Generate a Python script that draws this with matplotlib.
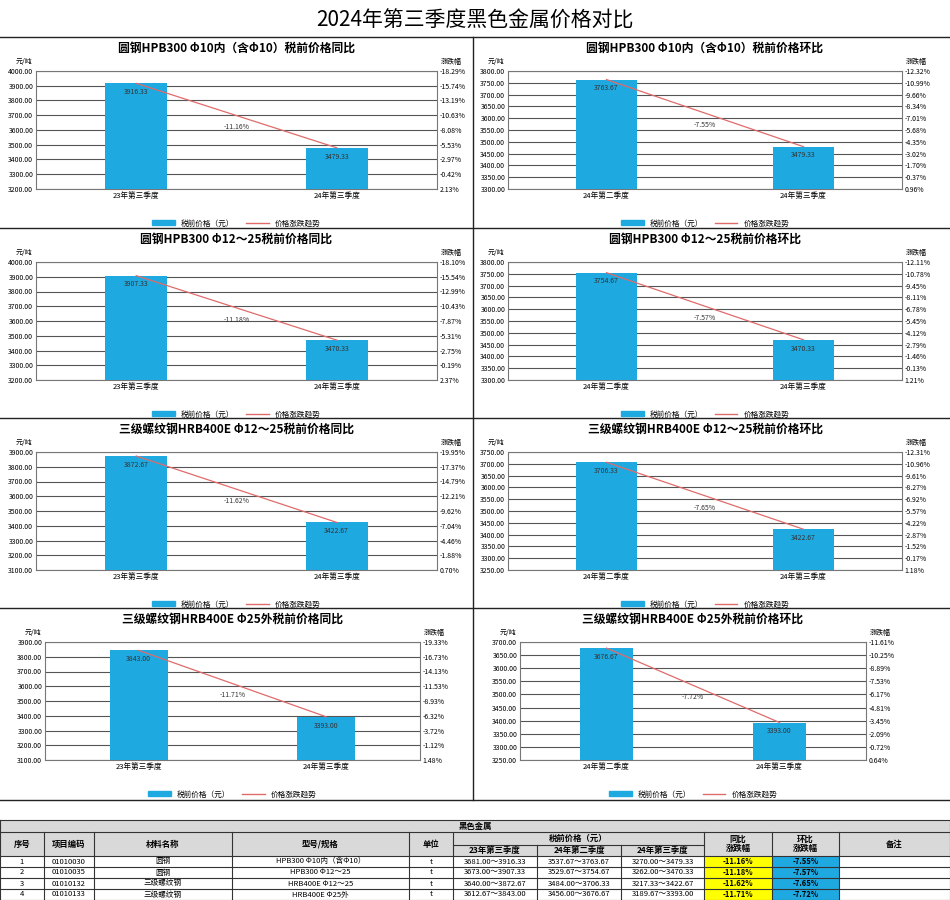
import numpy as np
import matplotlib.pyplot as plt
from matplotlib.patches import Rectangle
from matplotlib.lines import Line2D

plt.rcParams['font.family'] = ['Noto Sans CJK SC', 'DejaVu Sans']

W, H = 950, 900

titles = ["圆钢HPB300 Φ10内（含Φ10）税前价格同比", "圆钢HPB300 Φ10内（含Φ10）税前价格环比",
          "圆钢HPB300 Φ12～25税前价格同比", "圆钢HPB300 Φ12～25税前价格环比",
          "三级螺纹钢HRB400E Φ12～25税前价格同比", "三级螺纹钢HRB400E Φ12～25税前价格环比",
          "三级螺纹钢HRB400E Φ25外税前价格同比", "三级螺纹钢HRB400E Φ25外税前价格环比"]
cats_yoy = ["23年第三季度", "24年第三季度"]
cats_qoq = ["24年第二季度", "24年第三季度"]
values = [[3916.33, 3479.33], [3763.67, 3479.33],
          [3907.33, 3470.33], [3754.67, 3470.33],
          [3872.67, 3422.67], [3706.33, 3422.67],
          [3843.00, 3393.00], [3676.67, 3393.00]]
pct_labels = ["-11.16%", "-7.55%", "-11.18%", "-7.57%", "-11.62%", "-7.65%", "-11.71%", "-7.72%"]
left_ranges = [(3200, 4000, 100), (3300, 3800, 50), (3200, 4000, 100), (3300, 3800, 50),
               (3100, 3900, 100), (3250, 3750, 50), (3100, 3900, 100), (3250, 3700, 50)]
right_labels = [
    ["2.13%", "-0.42%", "-2.97%", "-5.53%", "-8.08%", "-10.63%", "-13.19%", "-15.74%", "-18.29%"],
    ["0.96%", "-0.37%", "-1.70%", "-3.02%", "-4.35%", "-5.68%", "-7.01%", "-8.34%", "-9.66%", "-10.99%", "-12.32%"],
    ["2.37%", "-0.19%", "-2.75%", "-5.31%", "-7.87%", "-10.43%", "-12.99%", "-15.54%", "-18.10%"],
    ["1.21%", "-0.13%", "-1.46%", "-2.79%", "-4.12%", "-5.45%", "-6.78%", "-8.11%", "-9.45%", "-10.78%", "-12.11%"],
    ["0.70%", "-1.88%", "-4.46%", "-7.04%", "-9.62%", "-12.21%", "-14.79%", "-17.37%", "-19.95%"],
    ["1.18%", "-0.17%", "-1.52%", "-2.87%", "-4.22%", "-5.57%", "-6.92%", "-8.27%", "-9.61%", "-10.96%", "-12.31%"],
    ["1.48%", "-1.12%", "-3.72%", "-6.32%", "-8.93%", "-11.53%", "-14.13%", "-16.73%", "-19.33%"],
    ["0.64%", "-0.72%", "-2.09%", "-3.45%", "-4.81%", "-6.17%", "-7.53%", "-8.89%", "-10.25%", "-11.61%"],
]

# table data
tbl_rows = [
    ["1", "01010030", "圆钢", "HPB300 Φ10内（含Φ10）", "t", "3681.00～3916.33", "3537.67～3763.67", "3270.00～3479.33", "-11.16%", "-7.55%"],
    ["2", "01010035", "圆钢", "HPB300 Φ12～25", "t", "3673.00～3907.33", "3529.67～3754.67", "3262.00～3470.33", "-11.18%", "-7.57%"],
    ["3", "01010132", "三级螺纹钢", "HRB400E Φ12～25", "t", "3640.00～3872.67", "3484.00～3706.33", "3217.33～3422.67", "-11.62%", "-7.65%"],
    ["4", "01010133", "三级螺纹钢", "HRB400E Φ25外", "t", "3612.67～3843.00", "3456.00～3676.67", "3189.67～3393.00", "-11.71%", "-7.72%"],
]

BAR = "#1FA9E1"
LINE = "#E06B6B"

fig = plt.figure(figsize=(9.5, 9), dpi=100)


def px_axes(x, y, w, h, **kw):
    return fig.add_axes([x / W, 1 - (y + h) / H, w / W, h / H], **kw)


fig.text(0.5, 1 - 21 / H, "2024年第三季度黑色金属价格对比", ha="center", va="center", fontsize=15)

row_tops = [37, 228, 418, 608]
plot_x = [(36, 437), (508, 902), (36, 437), (508, 902), (36, 437), (508, 902), (45, 420), (520, 866)]

for i in range(8):
    r, c = divmod(i, 2)
    top = row_tops[r]
    px0 = c * 475
    x0, x1 = plot_x[i]
    ax = px_axes(x0, top + 34, x1 - x0, 118)
    lo, hi, st = left_ranges[i]
    cats = cats_yoy if c == 0 else cats_qoq
    xs = np.arange(2)
    ax.bar(xs, values[i], width=0.31, color=BAR, zorder=3)
    ax.plot(xs, values[i], color=LINE, lw=0.9, zorder=4)
    for xv, v in zip(xs, values[i]):
        ax.text(xv, v - (hi - lo) * 0.04, f"{v:.2f}", ha="center", va="top", fontsize=5, color="#333333", zorder=5)
    ax.text(0.5, (values[i][0] + values[i][1]) / 2 - (hi - lo) * 0.1, pct_labels[i], ha="center", va="center",
            fontsize=5, color="#333333", zorder=5)
    ax.set_xlim(-0.5, 1.5)
    ax.set_ylim(lo, hi)
    ticks = np.arange(lo, hi + st / 2, st)
    ax.set_yticks(ticks)
    ax.set_yticklabels([f"{t:.2f}" for t in ticks], fontsize=5)
    ax.set_xticks(xs)
    ax.set_xticklabels(cats, fontsize=5.5)
    ax.tick_params(length=0, pad=2)
    ax.grid(axis="y", color="#555555", lw=0.8, zorder=0)
    for s in ax.spines.values():
        s.set_color("#777777")
        s.set_linewidth(0.8)
    ax2 = ax.twinx()
    ax2.set_ylim(lo, hi)
    ax2.set_yticks(ticks)
    ax2.set_yticklabels(right_labels[i], fontsize=5)
    ax2.tick_params(length=0, pad=2)
    for s in ax2.spines.values():
        s.set_visible(False)
    ax.set_title(titles[i], fontsize=8.5, fontweight="bold", pad=14)
    ax.text(-0.01, 1.06, "元/吨", transform=ax.transAxes, ha="right", fontsize=5)
    ax2.text(1.01, 1.06, "涨跌幅", transform=ax.transAxes, ha="left", fontsize=5)
    handles = [Rectangle((0, 0), 1, 1, color=BAR), Line2D([0], [0], color=LINE, lw=1)]
    ax.legend(handles, ["税前价格（元）", "价格涨跌趋势"], loc="upper center", bbox_to_anchor=(0.5, -0.2),
              ncol=2, frameon=False, fontsize=5.5, handlelength=3, columnspacing=1.5)

# panel borders
bg = fig.add_axes([0, 0, 1, 1], zorder=-1)
bg.set_xlim(0, W)
bg.set_ylim(H, 0)
bg.axis("off")
for y in [37, 228, 418, 608, 800]:
    bg.plot([0, 950], [y, y], color="#222222", lw=1)
bg.plot([473, 473], [37, 800], color="#222222", lw=1)

# table
tx = [0, 44, 94, 232, 409, 453, 537, 621, 704, 772, 839, 950]
ty = [820, 832, 845, 856, 867, 878, 889, 900]
tab = fig.add_axes([0, 0, 1, 1], zorder=5)
tab.set_xlim(0, W)
tab.set_ylim(H, 0)
tab.axis("off")
tab.add_patch(Rectangle((0, ty[0]), W, ty[3] - ty[0], facecolor="#D9D9D9", edgecolor="none"))
tab.text(W / 2, (ty[0] + ty[1]) / 2, "黑色金属", ha="center", va="center", fontsize=6, fontweight="bold")
heads = ["序号", "项目编码", "材料名称", "型号/规格", "单位"]
for k, h in enumerate(heads):
    tab.text((tx[k] + tx[k + 1]) / 2, (ty[1] + ty[3]) / 2, h, ha="center", va="center", fontsize=6, fontweight="bold")
tab.text((tx[5] + tx[8]) / 2, (ty[1] + ty[2]) / 2, "税前价格（元）", ha="center", va="center", fontsize=6, fontweight="bold")
for k, h in enumerate(["23年第三季度", "24年第二季度", "24年第三季度"]):
    tab.text((tx[5 + k] + tx[6 + k]) / 2, (ty[2] + ty[3]) / 2, h, ha="center", va="center", fontsize=6, fontweight="bold")
tab.text((tx[8] + tx[9]) / 2, (ty[1] + ty[3]) / 2, "同比\n涨跌幅", ha="center", va="center", fontsize=6, fontweight="bold", linespacing=1.1)
tab.text((tx[9] + tx[10]) / 2, (ty[1] + ty[3]) / 2, "环比\n涨跌幅", ha="center", va="center", fontsize=6, fontweight="bold", linespacing=1.1)
tab.text((tx[10] + tx[11]) / 2, (ty[1] + ty[3]) / 2, "备注", ha="center", va="center", fontsize=6, fontweight="bold")
for j, row in enumerate(tbl_rows):
    y0, y1 = ty[3 + j], ty[4 + j]
    tab.add_patch(Rectangle((tx[8], y0), tx[9] - tx[8], y1 - y0, facecolor="#FFFF00", edgecolor="none"))
    tab.add_patch(Rectangle((tx[9], y0), tx[10] - tx[9], y1 - y0, facecolor="#1FA9E1", edgecolor="none"))
    for k, val in enumerate(row):
        bold = k >= 8
        tab.text((tx[k] + tx[k + 1]) / 2, (y0 + y1) / 2, val, ha="center", va="center", fontsize=5.5,
                 fontweight="bold" if bold else "normal")
lc = "#333333"
for y in [ty[0], ty[1], ty[3], ty[4], ty[5], ty[6], ty[7]]:
    tab.plot([0, W], [y, y], color=lc, lw=0.8)
tab.plot([tx[5], tx[8]], [ty[2], ty[2]], color=lc, lw=0.8)
for k, x in enumerate(tx):
    ystart = ty[0] if k in (0, 11) else ty[1]
    if k in (6, 7):
        ystart = ty[2]
    tab.plot([x, x], [ystart, ty[7]], color=lc, lw=0.8)

fig.savefig("out.png", dpi=100)
